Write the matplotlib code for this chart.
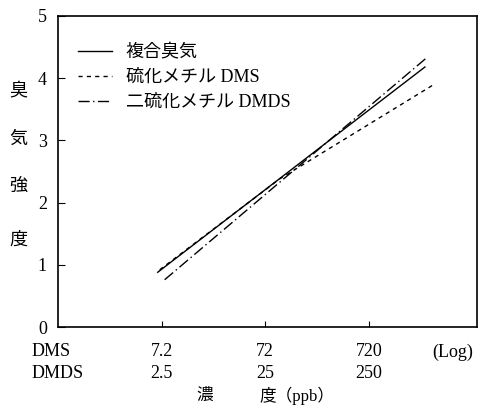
import matplotlib
matplotlib.use("Agg")
import matplotlib.pyplot as plt
from matplotlib.transforms import blended_transform_factory

plt.rcParams['font.family'] = ['Liberation Serif', 'Noto Sans CJK JP', 'DejaVu Sans']

# 濃度軸 (DMS 基準, 対数)
DMS_TICKS = [7.2, 72, 720]
DMS_TICK_LABELS = ["7.2", "72", "720"]
DMDS_TICK_LABELS = ["2.5", "25", "250"]
X_LIMITS = (0.72, 7950)

# 臭気強度
Y_TICKS = [0, 1, 2, 3, 4, 5]

# 回帰直線 (横軸は DMS 濃度換算)
mix_x = [6.6, 2500]
mix_y = [0.88, 4.18]
dms_x = [6.9, 99, 2990]
dms_y = [0.92, 2.38, 3.89]
dmds_x = [7.7, 2560]
dmds_y = [0.76, 4.32]

LABELS = ["複合臭気", "硫化メチル DMS", "二硫化メチル DMDS"]

W, H = 499, 411
fig = plt.figure(figsize=(W / 100, H / 100), dpi=100)
fig.patch.set_facecolor('white')

# 軸の枠 (ピクセル位置から)
L, R, T, B = 58, 477, 16, 327
ax = fig.add_axes([L / W, 1 - B / H, (R - L) / W, (B - T) / H])

ax.plot(mix_x, mix_y, color='black', lw=1.0, linestyle='-', label=LABELS[0])
ax.plot(dms_x, dms_y, color='black', lw=1.0, linestyle=(0, (3, 3)), label=LABELS[1])
ax.plot(dmds_x, dmds_y, color='black', lw=1.0, linestyle=(0, (8, 2.5, 1, 2.5)), label=LABELS[2])

ax.set_xscale('log')
ax.set_xlim(*X_LIMITS)
ax.set_ylim(0, 5)
ax.minorticks_off()

for sp in ax.spines.values():
    sp.set_linewidth(1.2)

ax.set_xticks(DMS_TICKS)
ax.set_xticklabels([])
ax.tick_params(axis='x', direction='in', length=4, width=0.8)
ax.set_yticks(Y_TICKS)
ax.set_yticklabels([str(v) for v in Y_TICKS], fontsize=13)
ax.tick_params(axis='y', direction='in', length=5, width=0.8, pad=8)

# 2段の横軸ラベル
trans = blended_transform_factory(ax.transData, fig.transFigure)
for xv, s1, s2 in zip(DMS_TICKS, DMS_TICK_LABELS, DMDS_TICK_LABELS):
    ax.text(xv, 1 - 352 / H, s1, transform=trans, ha='center', va='center', fontsize=13)
    ax.text(xv, 1 - 373 / H, s2, transform=trans, ha='center', va='center', fontsize=13)
fig.text(32 / W, 1 - 352 / H, "DMS", ha='left', va='center', fontsize=13)
fig.text(32 / W, 1 - 373 / H, "DMDS", ha='left', va='center', fontsize=13)
fig.text(432 / W, 1 - 352 / H, "(Log)", ha='left', va='center', fontsize=13)

# 軸タイトル
fig.text(205 / W, 1 - 396 / H, "濃", ha='center', va='center', fontsize=12)
fig.text(259 / W, 1 - 396 / H, "度（ppb）", ha='left', va='center', fontsize=12)
for ch, yp in zip("臭気強度", [92, 139, 186, 240]):
    fig.text(18 / W, 1 - yp / H, ch, ha='center', va='center', fontsize=13)

leg = ax.legend(loc='upper left', frameon=False, fontsize=13,
                bbox_to_anchor=((78 - L) / (R - L), 1 - (44 - T) / (B - T)),
                borderpad=0, borderaxespad=0, handlelength=1.9,
                handletextpad=0.75, labelspacing=0.45)

fig.savefig('out.png', dpi=100, facecolor='white')
